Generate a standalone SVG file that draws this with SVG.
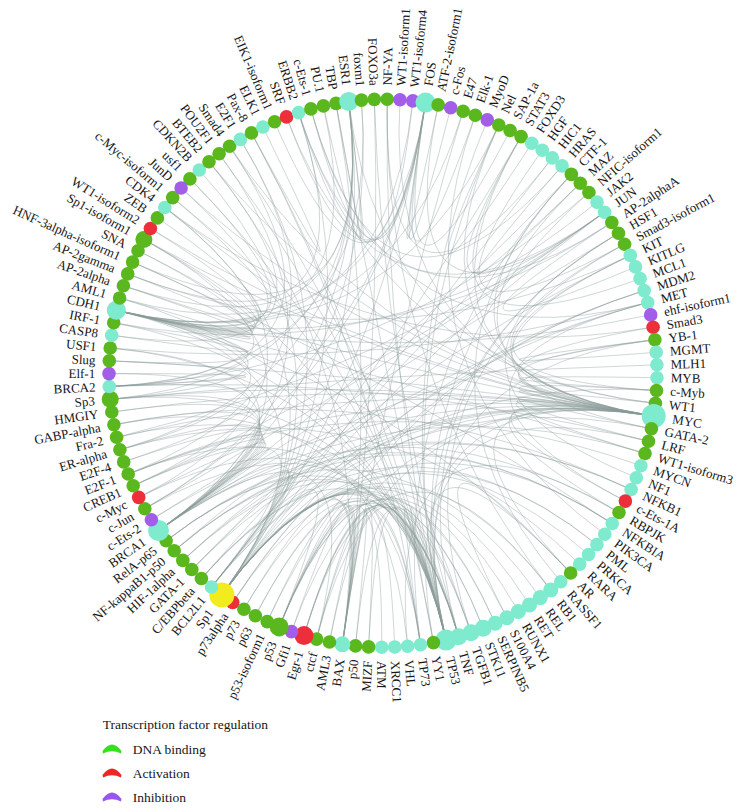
<svg xmlns="http://www.w3.org/2000/svg" width="740" height="812" viewBox="0 0 740 812">
<style>
#edges path{fill:none;stroke:#8a9b99;stroke-opacity:.4;stroke-width:1}
.g{fill:#5ab81e}.c{fill:#7eeace}.r{fill:#ec2f3a}.p{fill:#a25ee9}.y{fill:#f2ec1e}
text{font-family:"Liberation Serif","Times New Roman",serif;font-size:13px;fill:#161616}
.L{text-anchor:end}
#legend text{font-size:13.5px}
</style>
<rect width="740" height="812" fill="#fff"/>
<g id="edges">
<path d="M189.9 178.9Q383 373.3 446.1 640"/><path d="M189.9 178.9Q383 373.3 116.3 310.3"/>
<path d="M209 161.7Q383 373.3 653.7 416"/><path d="M209 161.7Q383 373.3 342.4 644.3"/><path d="M209 161.7Q383 373.3 111.7 335.2"/>
<path d="M219.1 153.7Q383 373.3 158.5 530.5"/><path d="M219.1 153.7Q383 373.3 446.1 640"/>
<path d="M229.6 146.3Q383 373.3 653.7 416"/><path d="M229.6 146.3Q383 373.3 471 632.8"/><path d="M229.6 146.3Q383 373.3 109.3 386.5"/>
<path d="M251.5 132.9Q383 373.3 446.1 640"/><path d="M251.5 132.9Q383 373.3 420.5 644.7"/><path d="M251.5 132.9Q383 373.3 262.9 127"/>
<path d="M274.6 121.7Q383 373.3 425.5 102.6"/>
<path d="M286.5 116.9Q383 373.3 425.5 102.6"/><path d="M286.5 116.9Q383 373.3 604.6 212.2"/>
<path d="M310.9 108.9Q383 373.3 647.7 302.6"/><path d="M310.9 108.9Q383 373.3 425.5 102.6"/><path d="M310.9 108.9Q383 373.3 562.1 165.9"/>
<path d="M323.4 105.9Q383 373.3 348.7 101.5"/><path d="M323.4 105.9Q383 373.3 116.3 310.3"/>
<path d="M336 103.4Q383 373.3 348.7 101.5"/><path d="M336 103.4Q383 373.3 446.1 640"/><path d="M336 103.4Q383 373.3 342.4 644.3"/>
<path d="M361.5 100.1Q383 373.3 158.5 530.5"/><path d="M361.5 100.1Q383 373.3 109.3 386.5"/>
<path d="M374.3 99.4Q383 373.3 342.4 644.3"/><path d="M374.3 99.4Q383 373.3 458.6 636.7"/>
<path d="M387.2 99.3Q383 373.3 446.1 640"/><path d="M387.2 99.3Q383 373.3 552.3 157.9"/><path d="M387.2 99.3Q383 373.3 550.8 589.9"/>
<path d="M400 99.8Q383 373.3 653.7 416"/>
<path d="M412.8 100.9Q383 373.3 116.3 310.3"/><path d="M412.8 100.9Q383 373.3 298.6 112.6"/>
<path d="M438.2 104.9Q383 373.3 425.5 102.6"/><path d="M438.2 104.9Q383 373.3 604.6 212.2"/>
<path d="M450.7 107.8Q383 373.3 425.5 102.6"/>
<path d="M463.1 111.2Q383 373.3 116.3 310.3"/><path d="M463.1 111.2Q383 373.3 342.4 644.3"/>
<path d="M475.3 115.3Q383 373.3 425.5 102.6"/><path d="M475.3 115.3Q383 373.3 604.8 534.2"/>
<path d="M487.3 119.9Q383 373.3 446.1 640"/>
<path d="M498.8 125Q383 373.3 653.7 416"/><path d="M498.8 125Q383 373.3 446.1 640"/><path d="M498.8 125Q383 373.3 531.8 143.2"/><path d="M498.8 125Q383 373.3 116.3 310.3"/>
<path d="M510.1 130.5Q383 373.3 425.5 102.6"/>
<path d="M521.1 136.6Q383 373.3 653.7 416"/><path d="M521.1 136.6Q383 373.3 640.1 278.6"/><path d="M521.1 136.6Q383 373.3 211.5 587"/><path d="M521.1 136.6Q383 373.3 597 202.1"/>
<path d="M571.4 174.4Q383 373.3 653.7 416"/><path d="M571.4 174.4Q383 373.3 420.5 644.7"/><path d="M571.4 174.4Q383 373.3 560.8 581.8"/><path d="M571.4 174.4Q383 373.3 158.5 530.5"/>
<path d="M580.3 183.2Q383 373.3 653.7 416"/><path d="M580.3 183.2Q383 373.3 562.1 165.9"/><path d="M580.3 183.2Q383 373.3 211.5 587"/>
<path d="M588.9 192.5Q383 373.3 446.1 640"/><path d="M588.9 192.5Q383 373.3 109.3 386.5"/>
<path d="M611.8 222.5Q383 373.3 298.6 112.6"/><path d="M611.8 222.5Q383 373.3 635.5 266.9"/><path d="M611.8 222.5Q383 373.3 116.3 310.3"/>
<path d="M618.5 233.2Q383 373.3 458.6 636.7"/><path d="M618.5 233.2Q383 373.3 446.1 640"/><path d="M618.5 233.2Q383 373.3 636.3 477.7"/><path d="M618.5 233.2Q383 373.3 158.5 530.5"/>
<path d="M624.6 244.2Q383 373.3 653.7 416"/><path d="M624.6 244.2Q383 373.3 471 632.8"/><path d="M624.6 244.2Q383 373.3 542.3 150.3"/>
<path d="M650.7 314.9Q383 373.3 116.3 310.3"/>
<path d="M653.1 327.2Q383 373.3 653.7 416"/><path d="M653.1 327.2Q383 373.3 164.8 207.5"/>
<path d="M654.9 339.7Q383 373.3 653.7 416"/><path d="M654.9 339.7Q383 373.3 446.1 640"/><path d="M654.9 339.7Q383 373.3 656.2 352.3"/><path d="M654.9 339.7Q383 373.3 158.5 530.5"/>
<path d="M656.5 390.5Q383 373.3 653.7 416"/><path d="M656.5 390.5Q383 373.3 211.5 587"/><path d="M656.5 390.5Q383 373.3 630.3 255.4"/><path d="M656.5 390.5Q383 373.3 657 377.7"/>
<path d="M655.4 403.3Q383 373.3 653.7 416"/><path d="M655.4 403.3Q383 373.3 348.7 101.5"/><path d="M655.4 403.3Q383 373.3 298.6 112.6"/>
<path d="M651.4 428.7Q383 373.3 653.7 416"/><path d="M651.4 428.7Q383 373.3 630.3 255.4"/><path d="M651.4 428.7Q383 373.3 211.5 587"/>
<path d="M648.5 441.2Q383 373.3 653.7 416"/><path d="M648.5 441.2Q383 373.3 446.1 640"/><path d="M648.5 441.2Q383 373.3 109.3 386.5"/>
<path d="M645 453.5Q383 373.3 653.7 416"/><path d="M645 453.5Q383 373.3 116.3 310.3"/><path d="M645 453.5Q383 373.3 158.5 530.5"/>
<path d="M625.4 501.1Q383 373.3 647.7 302.6"/><path d="M625.4 501.1Q383 373.3 653.7 416"/>
<path d="M619 512.5Q383 373.3 653.7 416"/><path d="M619 512.5Q383 373.3 407.6 646.2"/><path d="M619 512.5Q383 373.3 158.5 530.5"/>
<path d="M570.6 573Q383 373.3 653.7 416"/><path d="M570.6 573Q383 373.3 446.1 640"/><path d="M570.6 573Q383 373.3 506.9 617.7"/><path d="M570.6 573Q383 373.3 116.3 310.3"/>
<path d="M433.4 642.6Q383 373.3 446.1 640"/><path d="M433.4 642.6Q383 373.3 420.5 644.7"/><path d="M433.4 642.6Q383 373.3 653.7 416"/>
<path d="M368.6 646.9Q383 373.3 342.4 644.3"/><path d="M368.6 646.9Q383 373.3 446.1 640"/>
<path d="M355.5 645.9Q383 373.3 458.6 636.7"/><path d="M355.5 645.9Q383 373.3 342.4 644.3"/>
<path d="M329.5 642Q383 373.3 446.1 640"/><path d="M329.5 642Q383 373.3 342.4 644.3"/>
<path d="M316.6 639.1Q383 373.3 653.7 416"/><path d="M316.6 639.1Q383 373.3 446.1 640"/><path d="M316.6 639.1Q383 373.3 158.5 530.5"/><path d="M316.6 639.1Q383 373.3 394.7 647"/>
<path d="M304 635.6Q383 373.3 446.1 640"/><path d="M304 635.6Q383 373.3 471 632.8"/><path d="M304 635.6Q383 373.3 458.6 636.7"/><path d="M304 635.6Q383 373.3 550.8 589.9"/>
<path d="M291.5 631.6Q383 373.3 653.7 416"/><path d="M291.5 631.6Q383 373.3 342.4 644.3"/>
<path d="M279.2 626.9Q383 373.3 342.4 644.3"/><path d="M279.2 626.9Q383 373.3 644.2 290.6"/><path d="M279.2 626.9Q383 373.3 446.1 640"/><path d="M279.2 626.9Q383 373.3 420.5 644.7"/><path d="M279.2 626.9Q383 373.3 211.5 587"/><path d="M279.2 626.9Q383 373.3 506.9 617.7"/><path d="M279.2 626.9Q383 373.3 495.2 623.3"/><path d="M279.2 626.9Q383 373.3 381.7 647.3"/>
<path d="M267.2 621.6Q383 373.3 342.4 644.3"/><path d="M267.2 621.6Q383 373.3 644.2 290.6"/>
<path d="M255.4 615.8Q383 373.3 420.5 644.7"/><path d="M255.4 615.8Q383 373.3 446.1 640"/>
<path d="M243.9 609.3Q383 373.3 342.4 644.3"/><path d="M243.9 609.3Q383 373.3 446.1 640"/>
<path d="M232.7 602.4Q383 373.3 342.4 644.3"/><path d="M232.7 602.4Q383 373.3 644.2 290.6"/><path d="M232.7 602.4Q383 373.3 596.9 544.6"/>
<path d="M221.9 594.9Q383 373.3 446.1 640"/><path d="M221.9 594.9Q383 373.3 458.6 636.7"/><path d="M221.9 594.9Q383 373.3 471 632.8"/><path d="M221.9 594.9Q383 373.3 483.2 628.3"/><path d="M221.9 594.9Q383 373.3 495.2 623.3"/><path d="M221.9 594.9Q383 373.3 518.4 611.5"/><path d="M221.9 594.9Q383 373.3 529.5 604.9"/><path d="M221.9 594.9Q383 373.3 550.8 589.9"/><path d="M221.9 594.9Q383 373.3 588.5 554.5"/><path d="M221.9 594.9Q383 373.3 612.2 523.5"/><path d="M221.9 594.9Q383 373.3 653.7 416"/><path d="M221.9 594.9Q383 373.3 647.7 302.6"/><path d="M221.9 594.9Q383 373.3 604.6 212.2"/><path d="M221.9 594.9Q383 373.3 552.3 157.9"/><path d="M221.9 594.9Q383 373.3 425.5 102.6"/><path d="M221.9 594.9Q383 373.3 348.7 101.5"/><path d="M221.9 594.9Q383 373.3 298.6 112.6"/><path d="M221.9 594.9Q383 373.3 240.4 139.4"/><path d="M221.9 594.9Q383 373.3 199.3 170"/><path d="M221.9 594.9Q383 373.3 116.3 310.3"/><path d="M221.9 594.9Q383 373.3 164.8 207.5"/><path d="M221.9 594.9Q383 373.3 158.5 530.5"/>
<path d="M201.4 578.5Q383 373.3 458.6 636.7"/><path d="M201.4 578.5Q383 373.3 653.7 416"/><path d="M201.4 578.5Q383 373.3 211.5 587"/><path d="M201.4 578.5Q383 373.3 596.9 544.6"/>
<path d="M191.8 569.5Q383 373.3 211.5 587"/><path d="M191.8 569.5Q383 373.3 653.7 416"/><path d="M191.8 569.5Q383 373.3 630.3 255.4"/>
<path d="M182.8 560.4Q383 373.3 647.7 302.6"/><path d="M182.8 560.4Q383 373.3 653.7 416"/><path d="M182.8 560.4Q383 373.3 483.2 628.3"/>
<path d="M174.2 550.7Q383 373.3 458.6 636.7"/><path d="M174.2 550.7Q383 373.3 612.2 523.5"/><path d="M174.2 550.7Q383 373.3 211.5 587"/><path d="M174.2 550.7Q383 373.3 631.1 489.5"/>
<path d="M166.1 540.8Q383 373.3 458.6 636.7"/><path d="M166.1 540.8Q383 373.3 631.1 489.5"/><path d="M166.1 540.8Q383 373.3 612.2 523.5"/><path d="M166.1 540.8Q383 373.3 540.3 597.6"/>
<path d="M151.4 519.7Q383 373.3 653.7 416"/><path d="M151.4 519.7Q383 373.3 158.5 530.5"/>
<path d="M144.8 508.7Q383 373.3 446.1 640"/><path d="M144.8 508.7Q383 373.3 425.5 102.6"/><path d="M144.8 508.7Q383 373.3 604.6 212.2"/><path d="M144.8 508.7Q383 373.3 348.7 101.5"/>
<path d="M138.7 497.4Q383 373.3 446.1 640"/><path d="M138.7 497.4Q383 373.3 158.5 530.5"/><path d="M138.7 497.4Q383 373.3 164.8 207.5"/>
<path d="M133.2 485.8Q383 373.3 425.5 102.6"/><path d="M133.2 485.8Q383 373.3 158.5 530.5"/><path d="M133.2 485.8Q383 373.3 211.5 587"/><path d="M133.2 485.8Q383 373.3 604.6 212.2"/>
<path d="M128.2 474Q383 373.3 653.7 416"/><path d="M128.2 474Q383 373.3 158.5 530.5"/><path d="M128.2 474Q383 373.3 420.5 644.7"/><path d="M128.2 474Q383 373.3 240.4 139.4"/><path d="M128.2 474Q383 373.3 640.9 465.7"/>
<path d="M123.7 461.9Q383 373.3 109.3 386.5"/><path d="M123.7 461.9Q383 373.3 158.5 530.5"/>
<path d="M119.9 449.7Q383 373.3 158.5 530.5"/><path d="M119.9 449.7Q383 373.3 116.3 310.3"/><path d="M119.9 449.7Q383 373.3 579.7 564.1"/><path d="M119.9 449.7Q383 373.3 348.7 101.5"/>
<path d="M116.6 437.3Q383 373.3 604.6 212.2"/><path d="M116.6 437.3Q383 373.3 653.7 416"/><path d="M116.6 437.3Q383 373.3 458.6 636.7"/>
<path d="M113.9 424.7Q383 373.3 158.5 530.5"/><path d="M113.9 424.7Q383 373.3 407.6 646.2"/><path d="M113.9 424.7Q383 373.3 631.1 489.5"/>
<path d="M111.8 412Q383 373.3 158.5 530.5"/><path d="M111.8 412Q383 373.3 653.7 416"/>
<path d="M110.2 399.3Q383 373.3 446.1 640"/><path d="M110.2 399.3Q383 373.3 158.5 530.5"/><path d="M110.2 399.3Q383 373.3 653.7 416"/><path d="M110.2 399.3Q383 373.3 116.3 310.3"/><path d="M110.2 399.3Q383 373.3 348.7 101.5"/><path d="M110.2 399.3Q383 373.3 656.9 364.8"/>
<path d="M109 373.6Q383 373.3 158.5 530.5"/><path d="M109 373.6Q383 373.3 109.3 386.5"/>
<path d="M109.3 360.8Q383 373.3 116.3 310.3"/><path d="M109.3 360.8Q383 373.3 109.3 386.5"/><path d="M109.3 360.8Q383 373.3 653.7 416"/>
<path d="M110.2 348Q383 373.3 446.1 640"/><path d="M110.2 348Q383 373.3 158.5 530.5"/><path d="M110.2 348Q383 373.3 647.7 302.6"/>
<path d="M113.7 322.7Q383 373.3 111.7 335.2"/><path d="M113.7 322.7Q383 373.3 446.1 640"/><path d="M113.7 322.7Q383 373.3 604.6 212.2"/>
<path d="M119.6 298Q383 373.3 116.3 310.3"/><path d="M119.6 298Q383 373.3 446.1 640"/><path d="M119.6 298Q383 373.3 425.5 102.6"/>
<path d="M123.4 285.8Q383 373.3 116.3 310.3"/><path d="M123.4 285.8Q383 373.3 653.7 416"/><path d="M123.4 285.8Q383 373.3 348.7 101.5"/>
<path d="M127.7 273.9Q383 373.3 116.3 310.3"/><path d="M127.7 273.9Q383 373.3 298.6 112.6"/><path d="M127.7 273.9Q383 373.3 630.3 255.4"/>
<path d="M132.6 262.1Q383 373.3 116.3 310.3"/><path d="M132.6 262.1Q383 373.3 348.7 101.5"/><path d="M132.6 262.1Q383 373.3 612.2 523.5"/>
<path d="M138 250.7Q383 373.3 116.3 310.3"/><path d="M138 250.7Q383 373.3 109.3 386.5"/>
<path d="M143.9 239.4Q383 373.3 116.3 310.3"/><path d="M143.9 239.4Q383 373.3 446.1 640"/><path d="M143.9 239.4Q383 373.3 653.7 416"/><path d="M143.9 239.4Q383 373.3 158.5 530.5"/>
<path d="M150.4 228.5Q383 373.3 116.3 310.3"/><path d="M150.4 228.5Q383 373.3 653.7 416"/>
<path d="M157.4 217.9Q383 373.3 116.3 310.3"/>
<path d="M172.7 197.6Q383 373.3 446.1 640"/><path d="M172.7 197.6Q383 373.3 164.8 207.5"/>
<path d="M181.1 188Q383 373.3 653.7 416"/><path d="M181.1 188Q383 373.3 116.3 310.3"/>
</g>
<g id="nodes">
<g id="n0"><circle class="g" cx="189.9" cy="178.9" r="6.8"/><text class="L" x="95.2" y="377.7" transform="rotate(45.2 383 373.3)">usf1</text></g>
<g id="n1"><circle class="c" cx="199.3" cy="170" r="6.8"/><text class="L" x="95.2" y="377.7" transform="rotate(47.89 383 373.3)">CDKN2B</text></g>
<g id="n2"><circle class="g" cx="209" cy="161.7" r="6.8"/><text class="L" x="95.2" y="377.7" transform="rotate(50.57 383 373.3)">BTEB2</text></g>
<g id="n3"><circle class="g" cx="219.1" cy="153.7" r="6.8"/><text class="L" x="95.2" y="377.7" transform="rotate(53.26 383 373.3)">POU2F1</text></g>
<g id="n4"><circle class="g" cx="229.6" cy="146.3" r="6.8"/><text class="L" x="95.2" y="377.7" transform="rotate(55.95 383 373.3)">Smad4</text></g>
<g id="n5"><circle class="c" cx="240.4" cy="139.4" r="6.8"/><text class="L" x="95.2" y="377.7" transform="rotate(58.63 383 373.3)">E2F1</text></g>
<g id="n6"><circle class="g" cx="251.5" cy="132.9" r="6.8"/><text class="L" x="95.2" y="377.7" transform="rotate(61.32 383 373.3)">Pax-8</text></g>
<g id="n7"><circle class="c" cx="262.9" cy="127" r="6.8"/><text class="L" x="95.2" y="377.7" transform="rotate(64.01 383 373.3)">ELK1</text></g>
<g id="n8"><circle class="g" cx="274.6" cy="121.7" r="6.8"/><text class="L" x="95.2" y="377.7" transform="rotate(66.69 383 373.3)">EIK1-isoform1</text></g>
<g id="n9"><circle class="r" cx="286.5" cy="116.9" r="6.8"/><text class="L" x="95.2" y="377.7" transform="rotate(69.38 383 373.3)">SRF</text></g>
<g id="n10"><circle class="c" cx="298.6" cy="112.6" r="6.8"/><text class="L" x="95.2" y="377.7" transform="rotate(72.07 383 373.3)">ERBB2</text></g>
<g id="n11"><circle class="g" cx="310.9" cy="108.9" r="6.8"/><text class="L" x="95.2" y="377.7" transform="rotate(74.75 383 373.3)">c-Ets-1</text></g>
<g id="n12"><circle class="g" cx="323.4" cy="105.9" r="6.8"/><text class="L" x="95.2" y="377.7" transform="rotate(77.44 383 373.3)">PU.1</text></g>
<g id="n13"><circle class="g" cx="336" cy="103.4" r="6.8"/><text class="L" x="95.2" y="377.7" transform="rotate(80.13 383 373.3)">TBP</text></g>
<g id="n14"><circle class="c" cx="348.7" cy="101.5" r="9.5"/><text class="L" x="92.5" y="377.7" transform="rotate(82.81 383 373.3)">ESR1</text></g>
<g id="n15"><circle class="g" cx="361.5" cy="100.1" r="6.8"/><text class="L" x="95.2" y="377.7" transform="rotate(85.5 383 373.3)">foxm1</text></g>
<g id="n16"><circle class="g" cx="374.3" cy="99.4" r="6.8"/><text class="L" x="95.2" y="377.7" transform="rotate(88.19 383 373.3)">FOXO3a</text></g>
<g id="n17"><circle class="g" cx="387.2" cy="99.3" r="6.8"/><text x="670.8" y="377.7" transform="rotate(-89.13 383 373.3)">NF-YA</text></g>
<g id="n18"><circle class="p" cx="400" cy="99.8" r="6.8"/><text x="670.8" y="377.7" transform="rotate(-86.44 383 373.3)">WT1-isoform1</text></g>
<g id="n19"><circle class="p" cx="412.8" cy="100.9" r="6.8"/><text x="670.8" y="377.7" transform="rotate(-83.76 383 373.3)">WT1-isoform4</text></g>
<g id="n20"><circle class="c" cx="425.5" cy="102.6" r="10"/><text x="674" y="377.7" transform="rotate(-81.07 383 373.3)">FOS</text></g>
<g id="n21"><circle class="g" cx="438.2" cy="104.9" r="6.8"/><text x="670.8" y="377.7" transform="rotate(-78.38 383 373.3)">ATF-2-isoform1</text></g>
<g id="n22"><circle class="p" cx="450.7" cy="107.8" r="6.8"/><text x="670.8" y="377.7" transform="rotate(-75.7 383 373.3)">c-Fos</text></g>
<g id="n23"><circle class="g" cx="463.1" cy="111.2" r="6.8"/><text x="670.8" y="377.7" transform="rotate(-73.01 383 373.3)">E47</text></g>
<g id="n24"><circle class="g" cx="475.3" cy="115.3" r="6.8"/><text x="670.8" y="377.7" transform="rotate(-70.32 383 373.3)">Elk-1</text></g>
<g id="n25"><circle class="p" cx="487.3" cy="119.9" r="6.8"/><text x="670.8" y="377.7" transform="rotate(-67.64 383 373.3)">MyoD</text></g>
<g id="n26"><circle class="g" cx="498.8" cy="125" r="6.8"/><text x="670.8" y="377.7" transform="rotate(-65 383 373.3)">Nel</text></g>
<g id="n27"><circle class="g" cx="510.1" cy="130.5" r="6.8"/><text x="670.8" y="377.7" transform="rotate(-62.37 383 373.3)">SAP-1a</text></g>
<g id="n28"><circle class="g" cx="521.1" cy="136.6" r="6.8"/><text x="670.8" y="377.7" transform="rotate(-59.73 383 373.3)">STAT3</text></g>
<g id="n29"><circle class="c" cx="531.8" cy="143.2" r="6.8"/><text x="670.8" y="377.7" transform="rotate(-57.1 383 373.3)">FOXD3</text></g>
<g id="n30"><circle class="c" cx="542.3" cy="150.3" r="6.8"/><text x="670.8" y="377.7" transform="rotate(-54.46 383 373.3)">HGF</text></g>
<g id="n31"><circle class="c" cx="552.3" cy="157.9" r="6.8"/><text x="670.8" y="377.7" transform="rotate(-51.83 383 373.3)">HIC1</text></g>
<g id="n32"><circle class="c" cx="562.1" cy="165.9" r="6.8"/><text x="670.8" y="377.7" transform="rotate(-49.19 383 373.3)">HRAS</text></g>
<g id="n33"><circle class="g" cx="571.4" cy="174.4" r="6.8"/><text x="670.8" y="377.7" transform="rotate(-46.56 383 373.3)">CTF-1</text></g>
<g id="n34"><circle class="g" cx="580.3" cy="183.2" r="6.8"/><text x="670.8" y="377.7" transform="rotate(-43.93 383 373.3)">MAZ</text></g>
<g id="n35"><circle class="g" cx="588.9" cy="192.5" r="6.8"/><text x="670.8" y="377.7" transform="rotate(-41.29 383 373.3)">NFIC-isoform1</text></g>
<g id="n36"><circle class="c" cx="597" cy="202.1" r="6.8"/><text x="670.8" y="377.7" transform="rotate(-38.66 383 373.3)">JAK2</text></g>
<g id="n37"><circle class="c" cx="604.6" cy="212.2" r="6.8"/><text x="670.8" y="377.7" transform="rotate(-36.02 383 373.3)">JUN</text></g>
<g id="n38"><circle class="g" cx="611.8" cy="222.5" r="6.8"/><text x="670.8" y="377.7" transform="rotate(-33.39 383 373.3)">AP-2alphaA</text></g>
<g id="n39"><circle class="g" cx="618.5" cy="233.2" r="6.8"/><text x="670.8" y="377.7" transform="rotate(-30.75 383 373.3)">HSF1</text></g>
<g id="n40"><circle class="g" cx="624.6" cy="244.2" r="6.8"/><text x="670.8" y="377.7" transform="rotate(-28.12 383 373.3)">Smad3-isoform1</text></g>
<g id="n41"><circle class="c" cx="630.3" cy="255.4" r="6.8"/><text x="670.8" y="377.7" transform="rotate(-25.48 383 373.3)">KIT</text></g>
<g id="n42"><circle class="c" cx="635.5" cy="266.9" r="6.8"/><text x="670.8" y="377.7" transform="rotate(-22.85 383 373.3)">KITLG</text></g>
<g id="n43"><circle class="c" cx="640.1" cy="278.6" r="6.8"/><text x="670.8" y="377.7" transform="rotate(-20.21 383 373.3)">MCL1</text></g>
<g id="n44"><circle class="c" cx="644.2" cy="290.6" r="6.8"/><text x="670.8" y="377.7" transform="rotate(-17.58 383 373.3)">MDM2</text></g>
<g id="n45"><circle class="c" cx="647.7" cy="302.6" r="6.8"/><text x="670.8" y="377.7" transform="rotate(-14.94 383 373.3)">MET</text></g>
<g id="n46"><circle class="p" cx="650.7" cy="314.9" r="6.8"/><text x="670.8" y="377.7" transform="rotate(-12.31 383 373.3)">ehf-isoform1</text></g>
<g id="n47"><circle class="r" cx="653.1" cy="327.2" r="6.8"/><text x="670.8" y="377.7" transform="rotate(-9.68 383 373.3)">Smad3</text></g>
<g id="n48"><circle class="g" cx="654.9" cy="339.7" r="6.8"/><text x="670.8" y="377.7" transform="rotate(-7.04 383 373.3)">YB-1</text></g>
<g id="n49"><circle class="c" cx="656.2" cy="352.3" r="6.8"/><text x="670.8" y="377.7" transform="rotate(-4.41 383 373.3)">MGMT</text></g>
<g id="n50"><circle class="c" cx="656.9" cy="364.8" r="6.8"/><text x="670.8" y="377.7" transform="rotate(-1.77 383 373.3)">MLH1</text></g>
<g id="n51"><circle class="c" cx="657" cy="377.7" r="6.8"/><text x="670.8" y="377.7" transform="rotate(0.92 383 373.3)">MYB</text></g>
<g id="n52"><circle class="g" cx="656.5" cy="390.5" r="6.8"/><text x="670.8" y="377.7" transform="rotate(3.6 383 373.3)">c-Myb</text></g>
<g id="n53"><circle class="g" cx="655.4" cy="403.3" r="6.8"/><text x="670.8" y="377.7" transform="rotate(6.29 383 373.3)">WT1</text></g>
<g id="n54"><circle class="c" cx="653.7" cy="416" r="12"/><text x="676" y="377.7" transform="rotate(8.98 383 373.3)">MYC</text></g>
<g id="n55"><circle class="g" cx="651.4" cy="428.7" r="6.8"/><text x="670.8" y="377.7" transform="rotate(11.66 383 373.3)">GATA-2</text></g>
<g id="n56"><circle class="g" cx="648.5" cy="441.2" r="6.8"/><text x="670.8" y="377.7" transform="rotate(14.35 383 373.3)">LRF</text></g>
<g id="n57"><circle class="g" cx="645" cy="453.5" r="6.8"/><text x="670.8" y="377.7" transform="rotate(17.04 383 373.3)">WT1-isoform3</text></g>
<g id="n58"><circle class="c" cx="640.9" cy="465.7" r="6.8"/><text x="670.8" y="377.7" transform="rotate(19.72 383 373.3)">MYCN</text></g>
<g id="n59"><circle class="c" cx="636.3" cy="477.7" r="6.8"/><text x="670.8" y="377.7" transform="rotate(22.41 383 373.3)">NF1</text></g>
<g id="n60"><circle class="c" cx="631.1" cy="489.5" r="6.8"/><text x="670.8" y="377.7" transform="rotate(25.09 383 373.3)">NFKB1</text></g>
<g id="n61"><circle class="r" cx="625.4" cy="501.1" r="6.8"/><text x="670.8" y="377.7" transform="rotate(27.81 383 373.3)">c-Ets-1A</text></g>
<g id="n62"><circle class="g" cx="619" cy="512.5" r="6.8"/><text x="670.8" y="377.7" transform="rotate(30.53 383 373.3)">RBPJK</text></g>
<g id="n63"><circle class="c" cx="612.2" cy="523.5" r="6.8"/><text x="670.8" y="377.7" transform="rotate(33.24 383 373.3)">NFKBIA</text></g>
<g id="n64"><circle class="c" cx="604.8" cy="534.2" r="6.8"/><text x="670.8" y="377.7" transform="rotate(35.96 383 373.3)">PIK3CA</text></g>
<g id="n65"><circle class="c" cx="596.9" cy="544.6" r="6.8"/><text x="670.8" y="377.7" transform="rotate(38.67 383 373.3)">PML</text></g>
<g id="n66"><circle class="c" cx="588.5" cy="554.5" r="6.8"/><text x="670.8" y="377.7" transform="rotate(41.39 383 373.3)">PRKCA</text></g>
<g id="n67"><circle class="c" cx="579.7" cy="564.1" r="6.8"/><text x="670.8" y="377.7" transform="rotate(44.1 383 373.3)">RARA</text></g>
<g id="n68"><circle class="g" cx="570.6" cy="573" r="6.8"/><text x="670.8" y="377.7" transform="rotate(46.82 383 373.3)">AR</text></g>
<g id="n69"><circle class="c" cx="560.8" cy="581.8" r="6.8"/><text x="670.8" y="377.7" transform="rotate(49.54 383 373.3)">RASSF1</text></g>
<g id="n70"><circle class="c" cx="550.8" cy="589.9" r="7.5"/><text x="671.5" y="377.7" transform="rotate(52.25 383 373.3)">RB1</text></g>
<g id="n71"><circle class="c" cx="540.3" cy="597.6" r="7.5"/><text x="671.5" y="377.7" transform="rotate(54.97 383 373.3)">REL</text></g>
<g id="n72"><circle class="c" cx="529.5" cy="604.9" r="7.5"/><text x="671.5" y="377.7" transform="rotate(57.68 383 373.3)">RET</text></g>
<g id="n73"><circle class="c" cx="518.4" cy="611.5" r="7.5"/><text x="671.5" y="377.7" transform="rotate(60.4 383 373.3)">RUNX1</text></g>
<g id="n74"><circle class="c" cx="506.9" cy="617.7" r="7.5"/><text x="671.5" y="377.7" transform="rotate(63.11 383 373.3)">S100A4</text></g>
<g id="n75"><circle class="c" cx="495.2" cy="623.3" r="7.5"/><text x="671.5" y="377.7" transform="rotate(65.83 383 373.3)">SERPINB5</text></g>
<g id="n76"><circle class="c" cx="483.2" cy="628.3" r="8.5"/><text x="672.5" y="377.7" transform="rotate(68.55 383 373.3)">STK11</text></g>
<g id="n77"><circle class="c" cx="471" cy="632.8" r="8.5"/><text x="672.5" y="377.7" transform="rotate(71.26 383 373.3)">TGFB1</text></g>
<g id="n78"><circle class="c" cx="458.6" cy="636.7" r="8.5"/><text x="672.5" y="377.7" transform="rotate(73.98 383 373.3)">TNF</text></g>
<g id="n79"><circle class="c" cx="446.1" cy="640" r="10.5"/><text x="674.5" y="377.7" transform="rotate(76.69 383 373.3)">TP53</text></g>
<g id="n80"><circle class="g" cx="433.4" cy="642.6" r="6.8"/><text x="670.8" y="377.7" transform="rotate(79.41 383 373.3)">YY1</text></g>
<g id="n81"><circle class="c" cx="420.5" cy="644.7" r="6.8"/><text x="670.8" y="377.7" transform="rotate(82.13 383 373.3)">TP73</text></g>
<g id="n82"><circle class="c" cx="407.6" cy="646.2" r="6.8"/><text x="670.8" y="377.7" transform="rotate(84.84 383 373.3)">VHL</text></g>
<g id="n83"><circle class="c" cx="394.7" cy="647" r="6.8"/><text x="670.8" y="377.7" transform="rotate(87.56 383 373.3)">XRCC1</text></g>
<g id="n84"><circle class="c" cx="381.7" cy="647.3" r="6.8"/><text x="670.8" y="377.7" transform="rotate(90.27 383 373.3)">ATM</text></g>
<g id="n85"><circle class="g" cx="368.6" cy="646.9" r="6.8"/><text class="L" x="95.2" y="377.7" transform="rotate(-86.98 383 373.3)">MIZF</text></g>
<g id="n86"><circle class="g" cx="355.5" cy="645.9" r="6.8"/><text class="L" x="95.2" y="377.7" transform="rotate(-84.23 383 373.3)">p50</text></g>
<g id="n87"><circle class="c" cx="342.4" cy="644.3" r="8"/><text class="L" x="94" y="377.7" transform="rotate(-81.48 383 373.3)">BAX</text></g>
<g id="n88"><circle class="g" cx="329.5" cy="642" r="6.8"/><text class="L" x="95.2" y="377.7" transform="rotate(-78.73 383 373.3)">AML3</text></g>
<g id="n89"><circle class="g" cx="316.6" cy="639.1" r="6.8"/><text class="L" x="95.2" y="377.7" transform="rotate(-75.98 383 373.3)">ctcf</text></g>
<g id="n90"><circle class="r" cx="304" cy="635.6" r="9.5"/><text class="L" x="92.5" y="377.7" transform="rotate(-73.23 383 373.3)">Egr-1</text></g>
<g id="n91"><circle class="p" cx="291.5" cy="631.6" r="6.8"/><text class="L" x="95.2" y="377.7" transform="rotate(-70.49 383 373.3)">Gfi1</text></g>
<g id="n92"><circle class="g" cx="279.2" cy="626.9" r="9.5"/><text class="L" x="92.5" y="377.7" transform="rotate(-67.74 383 373.3)">p53</text></g>
<g id="n93"><circle class="g" cx="267.2" cy="621.6" r="6.8"/><text class="L" x="95.2" y="377.7" transform="rotate(-64.99 383 373.3)">p53-isoform1</text></g>
<g id="n94"><circle class="g" cx="255.4" cy="615.8" r="6.8"/><text class="L" x="95.2" y="377.7" transform="rotate(-62.24 383 373.3)">p63</text></g>
<g id="n95"><circle class="g" cx="243.9" cy="609.3" r="6.8"/><text class="L" x="95.2" y="377.7" transform="rotate(-59.49 383 373.3)">p73</text></g>
<g id="n96"><circle class="r" cx="232.7" cy="602.4" r="6.8"/><text class="L" x="95.2" y="377.7" transform="rotate(-56.74 383 373.3)">p73alpha</text></g>
<g id="n97"><circle class="y" cx="221.9" cy="594.9" r="12.5"/><text class="L" x="89.5" y="377.7" transform="rotate(-53.99 383 373.3)">Sp1</text></g>
<g id="n98"><circle class="c" cx="211.5" cy="587" r="6.8"/><text class="L" x="95.2" y="377.7" transform="rotate(-51.24 383 373.3)">BCL2L1</text></g>
<g id="n99"><circle class="g" cx="201.4" cy="578.5" r="6.8"/><text class="L" x="95.2" y="377.7" transform="rotate(-48.49 383 373.3)">C/EBPbeta</text></g>
<g id="n100"><circle class="g" cx="191.8" cy="569.5" r="6.8"/><text class="L" x="95.2" y="377.7" transform="rotate(-45.74 383 373.3)">GATA-1</text></g>
<g id="n101"><circle class="g" cx="182.8" cy="560.4" r="6.8"/><text class="L" x="95.2" y="377.7" transform="rotate(-43.06 383 373.3)">HIF-1alpha</text></g>
<g id="n102"><circle class="g" cx="174.2" cy="550.7" r="6.8"/><text class="L" x="95.2" y="377.7" transform="rotate(-40.37 383 373.3)">NF-kappaB1-p50</text></g>
<g id="n103"><circle class="g" cx="166.1" cy="540.8" r="6.8"/><text class="L" x="95.2" y="377.7" transform="rotate(-37.68 383 373.3)">RelA-p65</text></g>
<g id="n104"><circle class="c" cx="158.5" cy="530.5" r="10.5"/><text class="L" x="91.5" y="377.7" transform="rotate(-35 383 373.3)">BRCA1</text></g>
<g id="n105"><circle class="p" cx="151.4" cy="519.7" r="6.8"/><text class="L" x="95.2" y="377.7" transform="rotate(-32.31 383 373.3)">c-Ets-2</text></g>
<g id="n106"><circle class="g" cx="144.8" cy="508.7" r="6.8"/><text class="L" x="95.2" y="377.7" transform="rotate(-29.62 383 373.3)">c-Jun</text></g>
<g id="n107"><circle class="r" cx="138.7" cy="497.4" r="6.8"/><text class="L" x="95.2" y="377.7" transform="rotate(-26.94 383 373.3)">c-Myc</text></g>
<g id="n108"><circle class="g" cx="133.2" cy="485.8" r="6.8"/><text class="L" x="95.2" y="377.7" transform="rotate(-24.25 383 373.3)">CREB1</text></g>
<g id="n109"><circle class="g" cx="128.2" cy="474" r="6.8"/><text class="L" x="95.2" y="377.7" transform="rotate(-21.56 383 373.3)">E2F-1</text></g>
<g id="n110"><circle class="g" cx="123.7" cy="461.9" r="6.8"/><text class="L" x="95.2" y="377.7" transform="rotate(-18.88 383 373.3)">E2F-4</text></g>
<g id="n111"><circle class="g" cx="119.9" cy="449.7" r="6.8"/><text class="L" x="95.2" y="377.7" transform="rotate(-16.19 383 373.3)">ER-alpha</text></g>
<g id="n112"><circle class="g" cx="116.6" cy="437.3" r="6.8"/><text class="L" x="95.2" y="377.7" transform="rotate(-13.5 383 373.3)">Fra-2</text></g>
<g id="n113"><circle class="g" cx="113.9" cy="424.7" r="6.8"/><text class="L" x="95.2" y="377.7" transform="rotate(-10.82 383 373.3)">GABP-alpha</text></g>
<g id="n114"><circle class="g" cx="111.8" cy="412" r="6.8"/><text class="L" x="95.2" y="377.7" transform="rotate(-8.13 383 373.3)">HMGIY</text></g>
<g id="n115"><circle class="g" cx="110.2" cy="399.3" r="8.5"/><text class="L" x="93.5" y="377.7" transform="rotate(-5.45 383 373.3)">Sp3</text></g>
<g id="n116"><circle class="c" cx="109.3" cy="386.5" r="6.8"/><text class="L" x="95.2" y="377.7" transform="rotate(-2.76 383 373.3)">BRCA2</text></g>
<g id="n117"><circle class="p" cx="109" cy="373.6" r="6.8"/><text class="L" x="95.2" y="377.7" transform="rotate(-0.07 383 373.3)">Elf-1</text></g>
<g id="n118"><circle class="g" cx="109.3" cy="360.8" r="6.8"/><text class="L" x="95.2" y="377.7" transform="rotate(2.62 383 373.3)">Slug</text></g>
<g id="n119"><circle class="g" cx="110.2" cy="348" r="6.8"/><text class="L" x="95.2" y="377.7" transform="rotate(5.3 383 373.3)">USF1</text></g>
<g id="n120"><circle class="c" cx="111.7" cy="335.2" r="6.8"/><text class="L" x="95.2" y="377.7" transform="rotate(7.99 383 373.3)">CASP8</text></g>
<g id="n121"><circle class="g" cx="113.7" cy="322.7" r="6.8"/><text class="L" x="95.2" y="377.7" transform="rotate(10.65 383 373.3)">IRF-1</text></g>
<g id="n122"><circle class="c" cx="116.3" cy="310.3" r="9.5"/><text class="L" x="92.5" y="377.7" transform="rotate(13.3 383 373.3)">CDH1</text></g>
<g id="n123"><circle class="g" cx="119.6" cy="298" r="6.8"/><text class="L" x="95.2" y="377.7" transform="rotate(15.96 383 373.3)">AML1</text></g>
<g id="n124"><circle class="g" cx="123.4" cy="285.8" r="6.8"/><text class="L" x="95.2" y="377.7" transform="rotate(18.62 383 373.3)">AP-2alpha</text></g>
<g id="n125"><circle class="g" cx="127.7" cy="273.9" r="6.8"/><text class="L" x="95.2" y="377.7" transform="rotate(21.28 383 373.3)">AP-2gamma</text></g>
<g id="n126"><circle class="g" cx="132.6" cy="262.1" r="6.8"/><text class="L" x="95.2" y="377.7" transform="rotate(23.94 383 373.3)">HNF-3alpha-isoform1</text></g>
<g id="n127"><circle class="g" cx="138" cy="250.7" r="6.8"/><text class="L" x="95.2" y="377.7" transform="rotate(26.59 383 373.3)">SNA</text></g>
<g id="n128"><circle class="g" cx="143.9" cy="239.4" r="8.5"/><text class="L" x="93.5" y="377.7" transform="rotate(29.25 383 373.3)">Sp1-isoform1</text></g>
<g id="n129"><circle class="r" cx="150.4" cy="228.5" r="6.8"/><text class="L" x="95.2" y="377.7" transform="rotate(31.91 383 373.3)">WT1-isoform2</text></g>
<g id="n130"><circle class="g" cx="157.4" cy="217.9" r="6.8"/><text class="L" x="95.2" y="377.7" transform="rotate(34.57 383 373.3)">ZEB</text></g>
<g id="n131"><circle class="c" cx="164.8" cy="207.5" r="6.8"/><text class="L" x="95.2" y="377.7" transform="rotate(37.23 383 373.3)">CDK4</text></g>
<g id="n132"><circle class="g" cx="172.7" cy="197.6" r="6.8"/><text class="L" x="95.2" y="377.7" transform="rotate(39.88 383 373.3)">c-Myc-isoform1</text></g>
<g id="n133"><circle class="p" cx="181.1" cy="188" r="6.8"/><text class="L" x="95.2" y="377.7" transform="rotate(42.54 383 373.3)">JunD</text></g>
</g>
<g id="legend">
<text x="102.7" y="728.5">Transcription factor regulation</text>
<path fill="#35e01f" d="M102.5 751Q112 738 121.5 751L121 753.5Q112 749 103 753.5Z"/>
<text x="132.7" y="753.5">DNA binding</text>
<path fill="#ee2626" d="M102.5 775Q112 762 121.5 775L121 777.5Q112 773 103 777.5Z"/>
<text x="132.7" y="777.5">Activation</text>
<path fill="#9a55ee" d="M102.5 799Q112 786 121.5 799L121 801.5Q112 797 103 801.5Z"/>
<text x="132.7" y="801.5">Inhibition</text>
</g>
</svg>
